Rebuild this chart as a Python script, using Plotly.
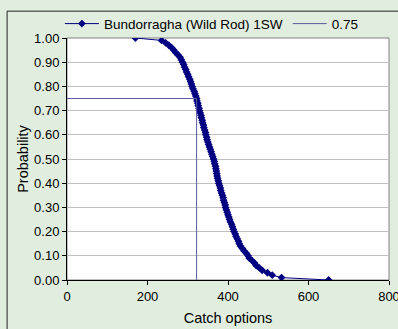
import plotly.graph_objects as go

catch = [170, 235, 245, 253, 260, 265, 270, 276, 281, 284, 287, 290, 292, 295, 297, 300,
         302, 305, 307, 309, 311, 313, 316, 318, 320, 322, 323, 325, 326, 328, 329, 331,
         333, 334, 336, 337, 339, 340, 342, 344, 345, 347, 348, 350, 352, 354, 356, 358,
         360, 362, 364, 366, 367, 369, 370, 371, 372, 373, 374, 376, 377, 379, 381, 382,
         384, 386, 388, 389, 391, 393, 394, 396, 398, 400, 402, 404, 406, 409, 411, 413,
         415, 418, 420, 423, 426, 428, 431, 436, 440, 446, 450, 453, 460, 466, 470, 478,
         485, 498, 510, 533, 650]
prob = [1.00, 0.99, 0.98, 0.97, 0.96, 0.95, 0.94, 0.93, 0.92, 0.91, 0.90, 0.89, 0.88, 0.87,
        0.86, 0.85, 0.84, 0.83, 0.82, 0.81, 0.80, 0.79, 0.78, 0.77, 0.76, 0.75, 0.74, 0.73,
        0.72, 0.71, 0.70, 0.69, 0.68, 0.67, 0.66, 0.65, 0.64, 0.63, 0.62, 0.61, 0.60, 0.59,
        0.58, 0.57, 0.56, 0.55, 0.54, 0.53, 0.52, 0.51, 0.50, 0.49, 0.48, 0.47, 0.46, 0.45,
        0.44, 0.43, 0.42, 0.41, 0.40, 0.39, 0.38, 0.37, 0.36, 0.35, 0.34, 0.33, 0.32, 0.31,
        0.30, 0.29, 0.28, 0.27, 0.26, 0.25, 0.24, 0.23, 0.22, 0.21, 0.20, 0.19, 0.18, 0.17,
        0.16, 0.15, 0.14, 0.13, 0.12, 0.11, 0.10, 0.09, 0.08, 0.07, 0.06, 0.05, 0.04, 0.03,
        0.02, 0.01, 0.00]

ref_x = [0, 322, 322]
ref_y = [0.75, 0.75, 0.0]

series_name = "Bundorragha (Wild Rod) 1SW"
ref_name = "0.75"
x_title = "Catch options"
y_title = "Probability"

FAM = "Liberation Sans, Arial, sans-serif"
tick_font = dict(family=FAM, size=13, color="#000000")
title_font = dict(family=FAM, size=14.5, color="#000000")
legend_font = dict(family=FAM, size=13.5, color="#000000")

fig = go.Figure()
fig.add_trace(go.Scatter(
    x=catch, y=prob, name=series_name, mode="lines+markers",
    line=dict(color="#000080", width=1),
    marker=dict(symbol="diamond", size=6, color="#000080"),
))
fig.add_trace(go.Scatter(
    x=ref_x, y=ref_y, name=ref_name, mode="lines",
    line=dict(color="#5A5AA0", width=1),
))

fig.update_layout(
    width=398, height=329,
    margin=dict(l=67, r=9, t=37, b=49),
    paper_bgcolor="#E1EEDF",
    plot_bgcolor="#FFFFFF",
    font=tick_font,
    showlegend=True,
    legend=dict(orientation="h", x=-0.022, xanchor="left", y=1.118, yanchor="top",
                bgcolor="rgba(0,0,0,0)", font=legend_font, itemwidth=34,
                tracegroupgap=0),
    xaxis=dict(range=[0, 800], tickvals=[0, 200, 400, 600, 800],
               showgrid=False, zeroline=False, automargin=False,
               showline=True, linecolor="#000000", linewidth=1,
               ticks="outside", ticklen=4, tickcolor="#000000",
               ticklabeloverflow="allow", tickfont=tick_font,
               title=dict(text=x_title, standoff=10, font=title_font), mirror=False),
    yaxis=dict(range=[0, 1], tickvals=[i / 10 for i in range(11)], tickformat=".2f",
               showgrid=True, gridcolor="#C0C0C0", gridwidth=1, zeroline=False,
               automargin=False, tickfont=tick_font,
               showline=True, linecolor="#000000", linewidth=1,
               ticks="outside", ticklen=4, tickcolor="#000000",
               title=dict(text=y_title, standoff=2, font=title_font)),
    shapes=[
        dict(type="rect", xref="paper", yref="paper", x0=0, x1=1, y0=0, y1=1,
             line=dict(color="#808080", width=1), fillcolor="rgba(0,0,0,0)", layer="below"),
        dict(type="rect", xref="paper", yref="paper", x0=-0.186, x1=1.2, y0=-0.4, y1=1.111,
             line=dict(color="#202020", width=1), fillcolor="rgba(0,0,0,0)"),
    ],
)

fig.write_html("out.html", config={"displayModeBar": False},
               post_script="document.body.style.margin='0';document.body.style.overflow='hidden';")
